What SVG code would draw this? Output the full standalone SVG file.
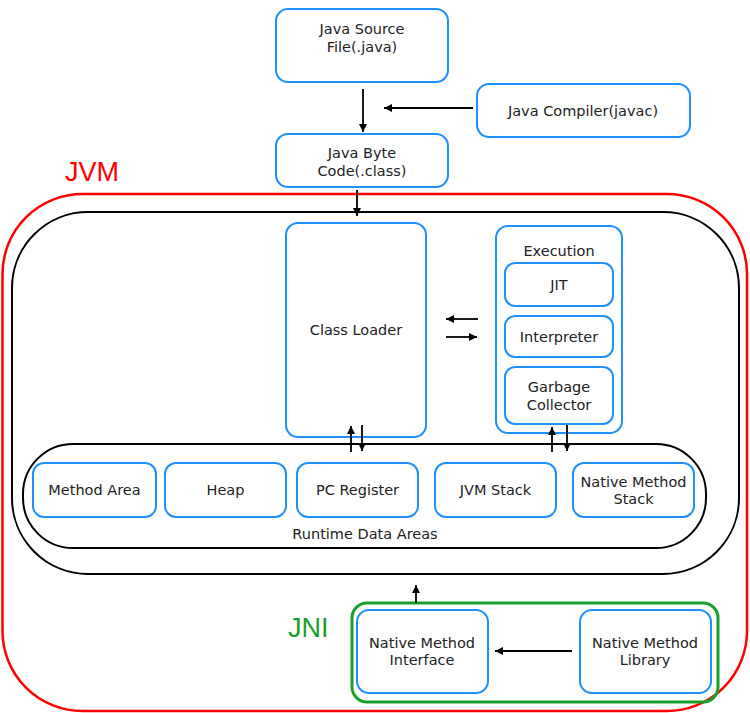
<svg xmlns="http://www.w3.org/2000/svg" width="750" height="713" viewBox="0 0 750 713">
<style>
.box{fill:#fff;stroke:#1e90ff;stroke-width:2}
.t{font-family:"DejaVu Sans",Verdana,sans-serif;font-size:14.5px;fill:#222;text-anchor:middle}
.c{stroke:#000;stroke-width:1.8;fill:none}
.lbl{font-family:"Liberation Sans",Arial,sans-serif;font-size:27px}
</style>
<defs>
<marker id="ah" viewBox="0 0 10 10" refX="10" refY="5" markerWidth="8" markerHeight="8" markerUnits="userSpaceOnUse" orient="auto">
<path d="M0,0 L10,5 L0,10 z" fill="#000"/>
</marker>
</defs>
<rect width="750" height="713" fill="#fff"/>

<g id="jvm">
<rect x="2.5" y="194" width="744.5" height="517" rx="80" ry="80" fill="none" stroke="#ff0000" stroke-width="2.5"/>
<text class="lbl" x="65" y="181" fill="#ff0000">JVM</text>
</g>
<g id="jvm-inner">
<rect x="12" y="212" width="727" height="362" rx="76" ry="76" fill="none" stroke="#000" stroke-width="2"/>
</g>

<g id="source">
<rect class="box" x="276" y="9" width="172" height="73" rx="12"/>
<text class="t" x="362" y="34">Java Source</text>
<text class="t" x="362" y="52">File(.java)</text>
</g>
<g id="compiler">
<rect class="box" x="477" y="84" width="213" height="53" rx="12"/>
<text class="t" x="583" y="116">Java Compiler(javac)</text>
</g>
<g id="bytecode">
<rect class="box" x="276" y="134" width="172" height="53" rx="12"/>
<text class="t" x="362" y="158">Java Byte</text>
<text class="t" x="362" y="176">Code(.class)</text>
</g>

<g id="classloader">
<rect class="box" x="286" y="223" width="140" height="214" rx="12"/>
<text class="t" x="356" y="335">Class Loader</text>
</g>
<g id="execution">
<rect class="box" x="496" y="226" width="126" height="207" rx="12"/>
<text class="t" x="559" y="256">Execution</text>
</g>
<g id="jit">
<rect class="box" x="505" y="263" width="108" height="43" rx="10"/>
<text class="t" x="559" y="290">JIT</text>
</g>
<g id="interpreter">
<rect class="box" x="505" y="316" width="108" height="41" rx="10"/>
<text class="t" x="559" y="342">Interpreter</text>
</g>
<g id="gc">
<rect class="box" x="505" y="367" width="108" height="57" rx="10"/>
<text class="t" x="559" y="392">Garbage</text>
<text class="t" x="559" y="410">Collector</text>
</g>

<g id="runtime">
<rect x="23" y="444" width="683" height="104" rx="50" ry="50" fill="none" stroke="#000" stroke-width="2"/>
<text class="t" x="365" y="539">Runtime Data Areas</text>
</g>
<g id="methodarea">
<rect class="box" x="33" y="463" width="123" height="54" rx="11"/>
<text class="t" x="94.5" y="495">Method Area</text>
</g>
<g id="heap">
<rect class="box" x="165" y="463" width="121" height="54" rx="11"/>
<text class="t" x="225.5" y="495">Heap</text>
</g>
<g id="pcregister">
<rect class="box" x="297" y="463" width="121" height="54" rx="11"/>
<text class="t" x="357.5" y="495">PC Register</text>
</g>
<g id="jvmstack">
<rect class="box" x="435" y="463" width="121" height="54" rx="11"/>
<text class="t" x="495.5" y="495">JVM Stack</text>
</g>
<g id="nativestack">
<rect class="box" x="573" y="463" width="121" height="54" rx="11"/>
<text class="t" x="633.5" y="487">Native Method</text>
<text class="t" x="633.5" y="504">Stack</text>
</g>

<g id="jni">
<rect x="352" y="603" width="366" height="99" rx="15" fill="none" stroke="#1aa02a" stroke-width="3"/>
<text class="lbl" x="288" y="637" fill="#1aa02a" font-size="26">JNI</text>
</g>
<g id="nmi">
<rect class="box" x="357" y="610" width="131" height="83" rx="12"/>
<text class="t" x="422" y="648">Native Method</text>
<text class="t" x="422" y="665">Interface</text>
</g>
<g id="nml">
<rect class="box" x="580" y="610" width="131" height="83" rx="12"/>
<text class="t" x="645" y="648">Native Method</text>
<text class="t" x="645" y="665">Library</text>
</g>

<g id="connectors">
<line class="c" x1="363" y1="89" x2="363" y2="132" marker-end="url(#ah)"/>
<line class="c" x1="473" y1="108" x2="384" y2="108" marker-end="url(#ah)"/>
<line class="c" x1="357" y1="190" x2="357" y2="216" marker-end="url(#ah)"/>
<line class="c" x1="478" y1="319" x2="446" y2="319" marker-end="url(#ah)"/>
<line class="c" x1="446" y1="337" x2="477" y2="337" marker-end="url(#ah)"/>
<line class="c" x1="351" y1="452" x2="351" y2="426" marker-end="url(#ah)"/>
<line class="c" x1="362" y1="425" x2="362" y2="451" marker-end="url(#ah)"/>
<line class="c" x1="552" y1="452" x2="552" y2="427" marker-end="url(#ah)"/>
<line class="c" x1="567" y1="425" x2="567" y2="451" marker-end="url(#ah)"/>
<line class="c" x1="416" y1="603" x2="416" y2="585" marker-end="url(#ah)"/>
<line class="c" x1="572" y1="651" x2="495" y2="651" marker-end="url(#ah)"/>
</g>
</svg>
